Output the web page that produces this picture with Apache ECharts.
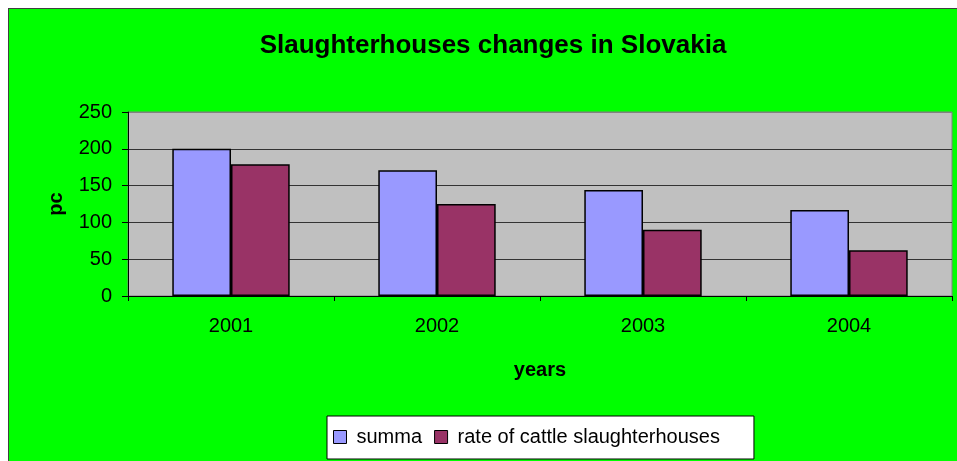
<!DOCTYPE html>
<html>
<head>
<meta charset="utf-8">
<script src="https://cdn.jsdelivr.net/npm/echarts@6/dist/echarts.min.js"></script>
<style>
  html, body { margin: 0; padding: 0; background: #fff; width: 957px; height: 461px; overflow: hidden; }
  #frame { position: absolute; left: 8px; top: 8px; width: 949px; height: 452px;
           border-left: 1px solid #404040; border-top: 1px solid #404040; background: #00ff00; }
  #chart { width: 949px; height: 452px; }
</style>
</head>
<body>
<div id="frame"><div id="chart"></div></div>
<script>
// data
var years = ['2001', '2002', '2003', '2004'];
var summa = [200, 171, 144, 117];
var cattleRate = [179, 125, 90, 62];
var seriesNames = ['summa', 'rate of cattle slaughterhouses'];

var font = 'Liberation Sans, Arial, sans-serif';
var chart = echarts.init(document.getElementById('chart'), null, { renderer: 'canvas' });

var option = {
    animation: false,
    backgroundColor: '#00ff00',
    title: {
        text: 'Slaughterhouses changes in Slovakia',
        left: 479,
        top: 19,
        textAlign: 'center',
        textStyle: { fontFamily: font, fontSize: 26, fontWeight: 'bold', color: '#000' }
    },
    legend: {
        data: seriesNames,
        left: 318,
        top: 407,
        orient: 'horizontal',
        backgroundColor: '#fff',
        borderColor: '#000',
        borderWidth: 1,
        padding: [10, 34, 11, 6],
        itemWidth: 13,
        itemHeight: 13,
        itemGap: 12,
        icon: 'rect',
        itemStyle: { borderColor: '#000', borderWidth: 1 },
        textStyle: { fontFamily: font, fontSize: 20, color: '#000', padding: [0, 0, 0, 5], lineHeight: 22 }
    },
    grid: {
        left: 119,
        right: 6,
        top: 103,
        bottom: 165,
        show: true,
        backgroundColor: '#c0c0c0',
        borderColor: '#808080',
        borderWidth: 1
    },
    xAxis: {
        type: 'category',
        data: years,
        name: 'years',
        nameLocation: 'middle',
        nameGap: 64,
        nameTextStyle: { fontFamily: font, fontSize: 20, fontWeight: 'bold', color: '#000' },
        axisLine: { lineStyle: { color: '#000', width: 1 } },
        axisTick: { show: true, length: 5, lineStyle: { color: '#000' } },
        axisLabel: { fontFamily: font, fontSize: 20, color: '#000', margin: 20 }
    },
    yAxis: {
        type: 'value',
        min: 0,
        max: 250,
        interval: 50,
        name: 'pc',
        nameLocation: 'middle',
        nameRotate: 90,
        nameGap: 62,
        nameTextStyle: { fontFamily: font, fontSize: 20, fontWeight: 'bold', color: '#000' },
        axisLine: { show: true, lineStyle: { color: '#000', width: 1 } },
        axisTick: { show: true, length: 6, lineStyle: { color: '#000' } },
        axisLabel: { fontFamily: font, fontSize: 20, color: '#000', margin: 16 },
        splitLine: { show: true, lineStyle: { color: ['#333', '#333', '#333', '#333', '#333', '#808080'], width: 1 } }
    },
    series: [
        {
            name: seriesNames[0],
            type: 'bar',
            data: summa,
            barGap: '0%',
            barCategoryGap: '43%',
            itemStyle: { color: '#9999ff', borderColor: '#000', borderWidth: 1.5 }
        },
        {
            name: seriesNames[1],
            type: 'bar',
            data: cattleRate,
            barGap: '0%',
            barCategoryGap: '43%',
            itemStyle: { color: '#993366', borderColor: '#000', borderWidth: 1.5 }
        }
    ]
};
chart.setOption(option);
</script>
</body>
</html>
